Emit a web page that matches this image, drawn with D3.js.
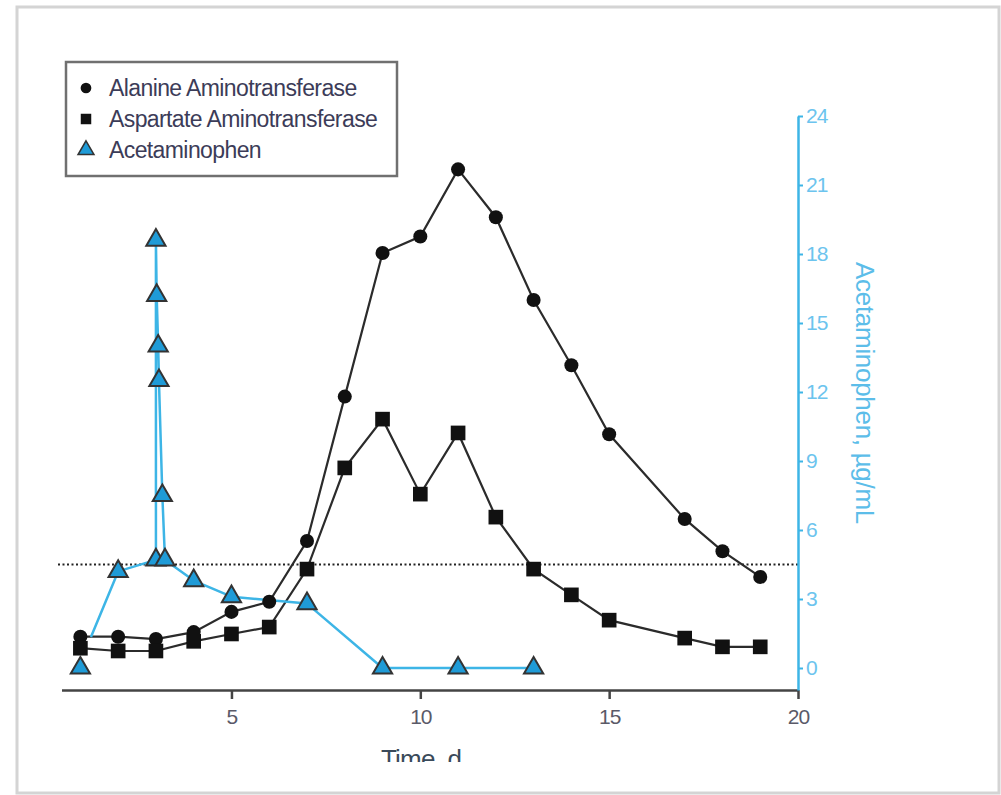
<!DOCTYPE html>
<html>
<head>
<meta charset="utf-8">
<script src="https://cdn.jsdelivr.net/npm/d3@7"></script>
<style>
  body { margin: 0; background: #fff; }
  text { font-family: "Liberation Sans", Arial, sans-serif; }
</style>
</head>
<body>
<script>
var w = 1001;
var h = 795;

// days of the enzyme measurements
var enzymeDays = [1, 2, 3, 4, 5, 6, 7, 8, 9, 10, 11, 12, 13, 14, 15, 17, 18, 19];
// aminotransferases, U/L (left axis not shown in the figure)
var altValues = [340, 340, 315, 390, 610, 720, 1380, 2950, 4510, 4690, 5420, 4900, 4000, 3290, 2540, 1620, 1270, 990];
var astValues = [215, 185, 185, 290, 370, 445, 1075, 2175, 2705, 1890, 2555, 1640, 1075, 795, 520, 325, 230, 230];

// acetaminophen, ug/mL
var apapDays   = [1.28, 2, 3, 3, 3.02, 3.06, 3.08, 3.17, 3.24, 4, 5, 7, 9, 11, 13];
var apapValues = [1.35, 4.2, 4.7, 18.6, 16.2, 14.0, 12.5, 7.5, 4.7, 3.8, 3.1, 2.8, 0, 0, 0];
var apapMarked = [false, true, true, true, true, true, true, true, true, true, true, true, true, true, true];
var apapExtraDay = 1, apapExtraValue = 0;   // lone marker not joined to the line

var refLine = 4.5;  // dotted reference line (right axis units)

var xTicks = [5, 10, 15, 20];
var yTicks = [0, 3, 6, 9, 12, 15, 18, 21, 24];
var legendLabels = ["Alanine Aminotransferase", "Aspartate Aminotransferase", "Acetaminophen"];

var blue = "#3db5e6";
var dark = "#2b2b2b";

var svg = d3.select("body").append("svg")
  .attr("width", w)
  .attr("height", h);

// frame of the scanned page
svg.append("rect")
  .attr("x", 17).attr("y", 7)
  .attr("width", 982).attr("height", 786)
  .attr("fill", "#fff")
  .attr("stroke", "#d4d4d4")
  .attr("stroke-width", 3);

var plotBottom = 690;
var x = d3.scaleLinear().domain([0.5, 20]).range([61.5, 798]);
var yR = d3.scaleLinear().domain([0, 24]).range([668, 116]);
var yL = d3.scaleLinear().domain([0, 6000]).range([668, 116]);

// dotted reference line
svg.append("line")
  .attr("x1", 58).attr("x2", x(20))
  .attr("y1", yR(refLine)).attr("y2", yR(refLine))
  .attr("stroke", "#222")
  .attr("stroke-width", 2)
  .attr("stroke-dasharray", "2,2.5");

// x axis
var gx = svg.append("g")
  .attr("transform", "translate(0," + plotBottom + ")")
  .call(d3.axisBottom(x).tickValues(xTicks).tickSize(9).tickSizeOuter(0).tickPadding(10));
gx.select(".domain").attr("stroke", "#444").attr("stroke-width", 2.5);
gx.selectAll(".tick line").attr("stroke", "#444").attr("stroke-width", 2.5);
gx.selectAll(".tick text").attr("fill", "#5a5a68").attr("font-size", 21).attr("letter-spacing", -1);

// right axis, its line runs down to the x axis
var yAxisScale = yR.copy().domain([yR.invert(plotBottom), 24]).range([plotBottom, yR(24)]);
var gy = svg.append("g")
  .attr("transform", "translate(" + x(20) + ",0)")
  .call(d3.axisRight(yAxisScale).tickValues(yTicks).tickSize(5).tickSizeOuter(0).tickPadding(3));
gy.select(".domain").attr("stroke", blue).attr("stroke-width", 2.5);
gy.selectAll(".tick line").attr("stroke", blue).attr("stroke-width", 2);
gy.selectAll(".tick text").attr("fill", "#6cc4ee").attr("font-size", 21).attr("letter-spacing", -1);

svg.append("text")
  .attr("transform", "translate(856,393) rotate(90)")
  .attr("text-anchor", "middle")
  .attr("fill", "#5cbde9")
  .attr("font-size", 26)
  .attr("letter-spacing", -0.3)
  .text("Acetaminophen, \u00b5g/mL");

// x axis title, cut off at the bottom like the scan
svg.append("clipPath").attr("id", "cut")
  .append("rect").attr("x", 0).attr("y", 0).attr("width", w).attr("height", 762);
svg.append("text")
  .attr("clip-path", "url(#cut)")
  .attr("x", 421).attr("y", 768)
  .attr("text-anchor", "middle")
  .attr("fill", "#3a4a5a")
  .attr("font-size", 26)
  .attr("letter-spacing", -0.8)
  .text("Time, d");

// series
var alt = enzymeDays.map(function(d, i) { return [d, altValues[i]]; });
var ast = enzymeDays.map(function(d, i) { return [d, astValues[i]]; });
var apap = apapDays.map(function(d, i) { return [d, apapValues[i], apapMarked[i]]; });

var enzLine = d3.line().x(function(d) { return x(d[0]); }).y(function(d) { return yL(d[1]); });
var apapLine = d3.line().x(function(d) { return x(d[0]); }).y(function(d) { return yR(d[1]); });

svg.append("path").datum(alt).attr("d", enzLine)
  .attr("fill", "none").attr("stroke", dark).attr("stroke-width", 2.2);
svg.append("path").datum(ast).attr("d", enzLine)
  .attr("fill", "none").attr("stroke", dark).attr("stroke-width", 2.2);
svg.append("path").datum(apap).attr("d", apapLine)
  .attr("fill", "none").attr("stroke", blue).attr("stroke-width", 2.5)
  .attr("stroke-linejoin", "round");

var tri = d3.symbol().type(d3.symbolTriangle).size(160);
var sq = d3.symbol().type(d3.symbolSquare).size(215);
var circ = d3.symbol().type(d3.symbolCircle).size(155);

svg.selectAll(".alt").data(alt).enter().append("path")
  .attr("class", "alt")
  .attr("d", circ)
  .attr("transform", function(d) { return "translate(" + x(d[0]) + "," + yL(d[1]) + ")"; })
  .attr("fill", "#111");

svg.selectAll(".ast").data(ast).enter().append("path")
  .attr("class", "ast")
  .attr("d", sq)
  .attr("transform", function(d) { return "translate(" + x(d[0]) + "," + yL(d[1]) + ")"; })
  .attr("fill", "#111");

var apapMarks = apap.filter(function(d) { return d[2]; }).concat([[apapExtraDay, apapExtraValue, true]]);
svg.selectAll(".apap").data(apapMarks).enter().append("path")
  .attr("class", "apap")
  .attr("d", tri)
  .attr("transform", function(d) { return "translate(" + x(d[0]) + "," + yR(d[1]) + ")"; })
  .attr("fill", "#1f9bd7")
  .attr("stroke", "#333")
  .attr("stroke-width", 2);

// legend
var lg = svg.append("g");
lg.append("rect")
  .attr("x", 66).attr("y", 62)
  .attr("width", 331).attr("height", 114)
  .attr("fill", "#fff")
  .attr("stroke", "#707070")
  .attr("stroke-width", 2.5);

var legendSymbols = [
  d3.symbol().type(d3.symbolCircle).size(90),
  d3.symbol().type(d3.symbolSquare).size(110),
  d3.symbol().type(d3.symbolTriangle).size(110)
];
legendLabels.forEach(function(lab, i) {
  var ly = 88 + i * 31;
  lg.append("path")
    .attr("d", legendSymbols[i])
    .attr("transform", "translate(86," + ly + ")")
    .attr("fill", i == 2 ? "#1f9bd7" : "#111")
    .attr("stroke", i == 2 ? "#333" : "none")
    .attr("stroke-width", 1.5);
  lg.append("text")
    .attr("x", 109).attr("y", ly + 8)
    .attr("fill", "#3c3c58")
    .attr("font-size", 23)
    .attr("letter-spacing", -0.6)
    .text(lab);
});
</script>
</body>
</html>
